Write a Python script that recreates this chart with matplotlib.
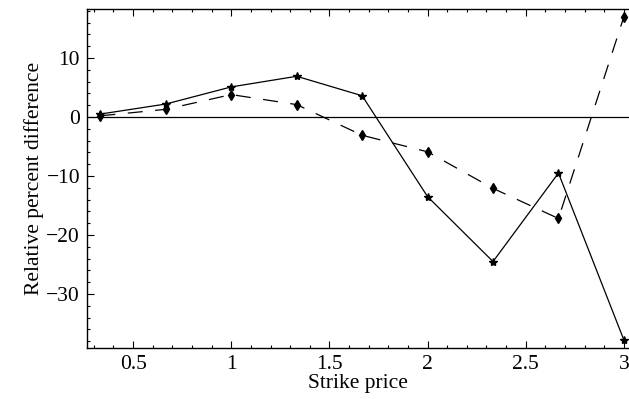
import matplotlib
matplotlib.use("Agg")
import matplotlib.pyplot as plt
from matplotlib.ticker import MultipleLocator

plt.rcParams['font.family'] = ['Liberation Serif', 'DejaVu Serif']
plt.rcParams['axes.unicode_minus'] = False

strike = [1/3, 2/3, 1, 4/3, 5/3, 2, 7/3, 8/3, 3]
diff_star = [0.5, 2.2, 5.1, 6.9, 3.6, -13.5, -24.5, -9.5, -37.8]
diff_diamond = [0.2, 1.3, 3.8, 2.1, -3.1, -5.9, -12.1, -17.2, 17.0]

fig = plt.figure(figsize=(6.29, 3.99), dpi=100)
ax = fig.add_axes([0.1383, 0.1278, 0.8617, 0.8496])

ax.axhline(0, color="black", lw=0.9)
ax.plot(strike, diff_star, color="black", lw=0.9, marker="*", ms=6)
ax.plot(strike, diff_diamond, color="black", lw=0.9, marker="d", ms=5,
        dashes=[12, 10])

ax.set_xlim(0.265, 3.026)
ax.set_ylim(-39.15, 18.3)

ax.xaxis.set_major_locator(MultipleLocator(0.5))
ax.xaxis.set_minor_locator(MultipleLocator(0.1))
ax.yaxis.set_major_locator(MultipleLocator(10))
ax.yaxis.set_minor_locator(MultipleLocator(2))
ax.xaxis.set_major_formatter(plt.FuncFormatter(lambda v, p: f"{v:g}"))
ax.yaxis.set_major_formatter(plt.FuncFormatter(
    lambda v, p: "0" if v == 0 else ("\u2212" + f"{-v:g}" if v < 0 else f"{v:g}")))

ax.spines['right'].set_visible(False)
for s in ['left', 'bottom', 'top']:
    ax.spines[s].set_linewidth(1.0)
ax.tick_params(which='both', direction='in', top=True, right=False,
               labelsize=15.5, width=0.8, pad=5)
ax.tick_params(which='major', length=5)
ax.tick_params(which='minor', length=2.5)

ax.set_xlabel("Strike price", fontsize=15.5, labelpad=0)
ax.set_ylabel("Relative percent difference", fontsize=15.5, labelpad=2)

fig.savefig("out.png", dpi=100)
